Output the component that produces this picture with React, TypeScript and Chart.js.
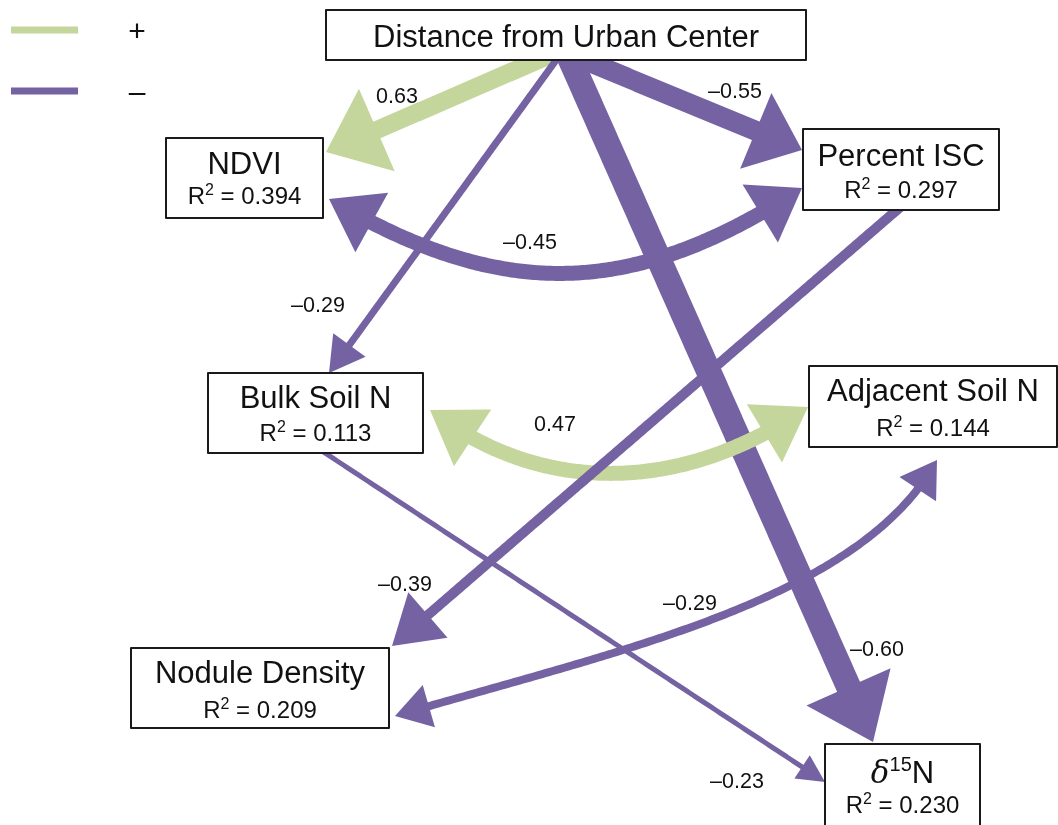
import React, { useEffect, useRef } from "react";
import { Chart, registerables } from "chart.js";

Chart.register(...registerables);

// Variables in the path model
const nodeNames = [
  "Distance from Urban Center",
  "NDVI",
  "Percent ISC",
  "Bulk Soil N",
  "Adjacent Soil N",
  "Nodule Density",
  "δ15N",
];
const rSquared = [null, 0.394, 0.297, 0.113, 0.144, 0.209, 0.23];

// Paths: source, target, standardized coefficient, two-way (correlation) or not
const pathFrom = [0, 0, 0, 0, 1, 3, 2, 4, 3];
const pathTo = [1, 2, 3, 6, 2, 4, 5, 5, 6];
const pathCoef = [0.63, -0.55, -0.29, -0.6, -0.45, 0.47, -0.39, -0.29, -0.23];
const pathTwoWay = [false, false, false, false, true, true, false, true, false];

// Legend entries
const legendSigns = ["+", "–"];

// ---- layout (data-space units of the diagram) ----
const nodeBoxes = [
  [326, 10, 806, 60],
  [166, 138, 323, 218],
  [803, 129, 999, 210],
  [208, 373, 423, 453],
  [809, 366, 1057, 447],
  [131, 648, 389, 728],
  [825, 744, 980, 832],
];
const titleBaselines = [47, 174, 166, 408, 401, 683, 783];
const r2Baselines = [0, 204, 198, 441, 436, 718, 813];

// path geometry: [start, (control1, control2,) tip]
const pathGeom: number[][][] = [
  [[557, 52], [326, 152]],
  [[565, 52], [802, 150]],
  [[562, 52], [329, 373]],
  [[567, 52], [873, 742]],
  [[329, 199], [500, 300], [630, 300], [802, 188]],
  [[430, 410], [540, 495], [680, 495], [808, 407]],
  [[905, 203], [392, 646]],
  [[395, 716], [620, 650], [860, 600], [937, 460]],
  [[316, 447], [825, 782]],
];
const pathWidth = [18, 20, 7, 25, 15, 15, 10, 8, 5];
const headLength = [55, 50, 34, 60, 48, 50, 46, 34, 26];
const headHalf = [45, 41, 20, 46, 34, 34, 30, 22, 14];
const labelPos = [
  [397, 97], [735, 92], [318, 306], [877, 650], [530, 243],
  [555, 425], [405, 585], [690, 604], [737, 782],
];
// drawing order of the paths
const drawOrder = [0, 1, 2, 3, 4, 5, 6, 7, 8];

const GREEN = "#c4d69c";
const PURPLE = "#7562a3";
const FONT = '"Liberation Sans", Arial, Helvetica, sans-serif';

function fmtCoef(c: number) {
  return (c < 0 ? "–" : "") + Math.abs(c).toFixed(2);
}

// draw a row of text pieces centred on cx
function drawPieces(
  ctx: CanvasRenderingContext2D,
  parts: { s: string; f: string; dy: number }[],
  cx: number,
  baseline: number
) {
  let w = 0;
  parts.forEach((p) => {
    ctx.font = p.f;
    w += ctx.measureText(p.s).width;
  });
  let x = cx - w / 2;
  ctx.textAlign = "left";
  ctx.textBaseline = "alphabetic";
  parts.forEach((p) => {
    ctx.font = p.f;
    ctx.fillText(p.s, x, baseline + p.dy);
    x += ctx.measureText(p.s).width;
  });
}

const diagramPlugin = {
  id: "pathDiagram",
  afterDatasetsDraw(chart: any) {
    const ctx: CanvasRenderingContext2D = chart.ctx;
    const sx = chart.scales.x;
    const sy = chart.scales.y;
    const px = (x: number) => sx.getPixelForValue(x);
    const py = (y: number) => sy.getPixelForValue(y);

    ctx.save();

    // legend
    const legendY = [30, 91];
    [GREEN, PURPLE].forEach((col, i) => {
      ctx.strokeStyle = col;
      ctx.lineWidth = 7;
      ctx.lineCap = "butt";
      ctx.beginPath();
      ctx.moveTo(px(11), py(legendY[i]));
      ctx.lineTo(px(78), py(legendY[i]));
      ctx.stroke();
      ctx.fillStyle = "#111";
      ctx.font = `30px ${FONT}`;
      ctx.textAlign = "center";
      ctx.textBaseline = "middle";
      ctx.fillText(legendSigns[i], px(137), py(legendY[i] + 3));
    });

    // arrows
    drawOrder.forEach((k) => {
      const g = pathGeom[k].map((p) => [px(p[0]), py(p[1])]);
      const P = (t: number) => {
        if (g.length === 2) {
          return [g[0][0] + (g[1][0] - g[0][0]) * t, g[0][1] + (g[1][1] - g[0][1]) * t];
        }
        const u = 1 - t;
        const a = u * u * u, b = 3 * u * u * t, c = 3 * u * t * t, d = t * t * t;
        return [
          a * g[0][0] + b * g[1][0] + c * g[2][0] + d * g[3][0],
          a * g[0][1] + b * g[1][1] + c * g[2][1] + d * g[3][1],
        ];
      };
      const N = 400;
      const hl = headLength[k];
      const hh = headHalf[k];
      const dist = (p: number[], q: number[]) => Math.hypot(p[0] - q[0], p[1] - q[1]);
      const tip1 = P(1);
      const tip0 = P(0);
      let t1 = 1;
      for (let i = N; i >= 0; i--) {
        if (dist(P(i / N), tip1) >= hl) { t1 = i / N; break; }
      }
      let t0 = 0;
      if (pathTwoWay[k]) {
        for (let i = 0; i <= N; i++) {
          if (dist(P(i / N), tip0) >= hl) { t0 = i / N; break; }
        }
      }
      const col = pathCoef[k] >= 0 ? GREEN : PURPLE;
      ctx.strokeStyle = col;
      ctx.fillStyle = col;
      ctx.lineWidth = pathWidth[k];
      ctx.lineCap = "butt";
      ctx.lineJoin = "round";
      ctx.beginPath();
      const steps = 160;
      const ext = 6 / N;
      const a0 = pathTwoWay[k] ? Math.max(t0 - ext, 0) : 0;
      const a1 = Math.min(t1 + ext, 1);
      for (let i = 0; i <= steps; i++) {
        const t = a0 + ((a1 - a0) * i) / steps;
        const p = P(t);
        if (i === 0) ctx.moveTo(p[0], p[1]);
        else ctx.lineTo(p[0], p[1]);
      }
      ctx.stroke();

      const head = (base: number[], tip: number[]) => {
        const dx = tip[0] - base[0], dy = tip[1] - base[1];
        const L = Math.hypot(dx, dy) || 1;
        const nx = -dy / L, ny = dx / L;
        ctx.beginPath();
        ctx.moveTo(tip[0], tip[1]);
        ctx.lineTo(base[0] + nx * hh, base[1] + ny * hh);
        ctx.lineTo(base[0] - nx * hh, base[1] - ny * hh);
        ctx.closePath();
        ctx.fill();
      };
      head(P(t1), tip1);
      if (pathTwoWay[k]) head(P(t0), tip0);
    });

    // coefficient labels
    ctx.fillStyle = "#111";
    ctx.font = `21.5px ${FONT}`;
    ctx.textAlign = "center";
    ctx.textBaseline = "middle";
    pathCoef.forEach((c, k) => {
      ctx.fillText(fmtCoef(c), px(labelPos[k][0]), py(labelPos[k][1]));
    });

    // variable boxes
    nodeNames.forEach((name, i) => {
      const [x0, y0, x1, y1] = nodeBoxes[i];
      const L = px(x0), T = py(y0), R = px(x1), B = py(y1);
      ctx.fillStyle = "#ffffff";
      ctx.fillRect(L, T, R - L, B - T);
      ctx.strokeStyle = "#1a1a1a";
      ctx.lineWidth = 2;
      ctx.strokeRect(L, T, R - L, B - T);
      const cx = (L + R) / 2;
      ctx.fillStyle = "#111";
      const tb = py(titleBaselines[i]);
      if (name.startsWith("δ")) {
        drawPieces(
          ctx,
          [
            { s: "δ", f: `italic 31px "DejaVu Serif", serif`, dy: 0 },
            { s: name.slice(1, 3), f: `20px ${FONT}`, dy: -12 },
            { s: name.slice(3), f: `31px ${FONT}`, dy: 0 },
          ],
          cx,
          tb
        );
      } else {
        ctx.font = `31px ${FONT}`;
        ctx.textAlign = "center";
        ctx.textBaseline = "alphabetic";
        ctx.fillText(name, cx, tb);
      }
      const r2 = rSquared[i];
      if (r2 !== null) {
        drawPieces(
          ctx,
          [
            { s: "R", f: `24px ${FONT}`, dy: 0 },
            { s: "2", f: `16px ${FONT}`, dy: -9 },
            { s: ` = ${r2.toFixed(3)}`, f: `24px ${FONT}`, dy: 0 },
          ],
          cx,
          py(r2Baselines[i])
        );
      }
    });

    ctx.restore();
  },
};

export default function App() {
  const canvasRef = useRef<HTMLCanvasElement | null>(null);

  useEffect(() => {
    if (!canvasRef.current) return;
    const chart = new Chart(canvasRef.current, {
      type: "scatter",
      data: {
        datasets: [
          {
            label: "variables",
            data: nodeBoxes.map((b) => ({ x: (b[0] + b[2]) / 2, y: (b[1] + b[3]) / 2 })),
            pointRadius: 0,
            showLine: false,
          },
        ],
      },
      options: {
        responsive: false,
        animation: false,
        layout: { padding: 0 },
        plugins: { legend: { display: false }, tooltip: { enabled: false } },
        scales: {
          x: { type: "linear", min: 0, max: 1058, display: false },
          y: { type: "linear", min: 0, max: 825, reverse: true, display: false },
        },
      },
      plugins: [diagramPlugin],
    });
    return () => chart.destroy();
  }, []);

  return (
    <div style={{ position: "fixed", left: 0, top: 0, width: 1058, height: 825, background: "#fff" }}>
      <canvas ref={canvasRef} width={1058} height={825} />
    </div>
  );
}
